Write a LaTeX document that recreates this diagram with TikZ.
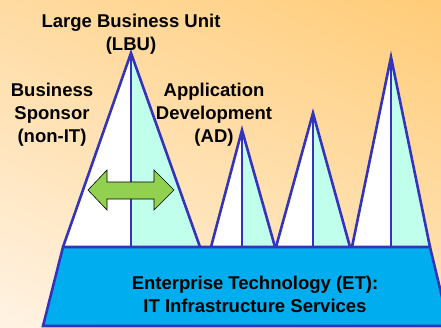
\documentclass[tikz,border=0pt]{standalone}
\usepackage{fontspec}
\setmainfont{Liberation Sans}
\usepackage{tikz}

\definecolor{edgeblue}{RGB}{51,51,187}
\definecolor{etblue}{RGB}{0,174,239}
\definecolor{halfcyan}{RGB}{192,255,236}
\definecolor{arrowgreen}{RGB}{146,208,80}
\definecolor{bgtop}{RGB}{255,204,120}
\definecolor{bgbottom}{RGB}{255,243,228}

\begin{document}
\begin{tikzpicture}[x=1pt,y=-1pt,
  label/.style={font=\fontsize{18.5}{23}\selectfont\bfseries,align=center,inner sep=0pt},
  edge/.style={draw=edgeblue,line width=2.6pt,line join=miter},
  inner/.style={draw=edgeblue,line width=2.6pt}]
\useasboundingbox (0,0) rectangle (441,327);
\clip (0,0) rectangle (441,327);
\shade[top color=bgtop,bottom color=bgbottom,shading angle=-25] (-60,-60) rectangle (500,390);

% large business unit
\fill[white] (131,53) -- (63,247) -- (131,247) -- cycle;
\fill[halfcyan] (131,53) -- (200,247) -- (131,247) -- cycle;
\draw[inner] (131,53) -- (131,247);
\draw[edge] (63,247) -- (131,53) -- (200,247);

% small units
\fill[white] (242,130) -- (211,247) -- (242,247) -- cycle;
\fill[halfcyan] (242,130) -- (275,247) -- (242,247) -- cycle;
\draw[inner] (242,130) -- (242,247);
\draw[edge] (211,247) -- (242,130) -- (275,247);

\fill[white] (313,113) -- (276,247) -- (313,247) -- cycle;
\fill[halfcyan] (313,113) -- (350,247) -- (313,247) -- cycle;
\draw[inner] (313,113) -- (313,247);
\draw[edge] (276,247) -- (313,113) -- (350,247);

\fill[white] (391,57) -- (352,247) -- (391,247) -- cycle;
\fill[halfcyan] (391,57) -- (430,247) -- (391,247) -- cycle;
\draw[inner] (391,57) -- (391,247);
\draw[edge] (352,247) -- (391,57) -- (430,247);

% infrastructure base
\draw[edge,fill=etblue] (63,247) -- (430,247) -- (449,326) -- (43,326) -- cycle;

% double arrow
\draw[fill=arrowgreen,draw=black,line width=0.6pt] (88,190) -- (107,170) -- (107,182) -- (154,182)
  -- (154,170) -- (174,190) -- (154,210) -- (154,199) -- (107,199) -- (107,210) -- cycle;

\node[label] (lbu) at (131,34) {Large Business Unit\\(LBU)};
\node[label] (sponsor) at (52,115) {Business\\Sponsor\\(non-IT)};
\node[label] (ad) at (214,115) {Application\\Development\\(AD)};
\node[label] (et) at (255,294) {Enterprise Technology (ET):\\IT Infrastructure Services};

\end{tikzpicture}
\end{document}
